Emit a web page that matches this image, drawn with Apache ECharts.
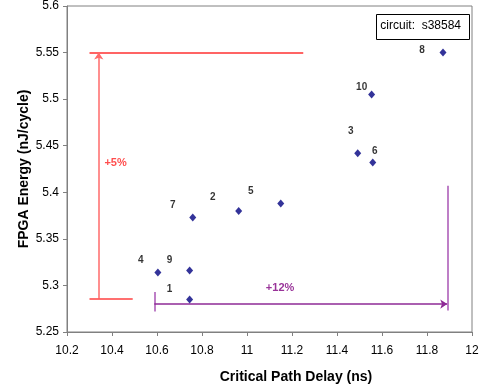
<!DOCTYPE html>
<html><head><meta charset="utf-8">
<script src="https://cdn.jsdelivr.net/npm/echarts@6/dist/echarts.min.js"></script>
<style>html,body{margin:0;padding:0;background:#fff}#c{width:486px;height:392px}</style>
</head><body><div id="c"></div>
<script>
// ---- data ----
const pointIds = ['1', '2', '3', '4', '5', '6', '7', '8', '9', '10'];
const delayNs  = [10.745, 10.963, 11.492, 10.604, 11.150, 11.559, 10.759, 11.871, 10.745, 11.554];
const energy   = [5.285, 5.380, 5.442, 5.314, 5.388, 5.432, 5.373, 5.550, 5.316, 5.505];

const redTop      = [[10.30, 5.55], [11.25, 5.55]];
const redArrow    = [[10.341, 5.286], [10.341, 5.55]];
const redBottom   = [[10.30, 5.286], [10.492, 5.286]];
const purpleLeft  = [[10.588, 5.293], [10.588, 5.272]];
const purpleArrow = [[10.588, 5.280], [11.89, 5.280]];
const purpleRight = [[11.89, 5.407], [11.89, 5.273]];

const noteRed    = {text: '+5%', x: 10.416, y: 5.431};
const notePurple = {text: '+12%', x: 11.147, y: 5.297};
const boxText = 'circuit:  s38584';

// label offsets (style only, pixels)
const labelOffsets = [[-20,-10],[-26,-14],[-7,-22],[-17,-12],[-30,-12],[2,-11],[-20,-12],[-21,-2],[-20,-10],[-10,-7]];

const FONT = "'Liberation Sans', Arial, sans-serif";
const chart = echarts.init(document.getElementById('c'), null, {renderer: 'canvas'});

const pts = pointIds.map((id, i) => ({
  name: id, value: [delayNs[i], energy[i]],
  label: {offset: labelOffsets[i]}
}));

function seg(coords, color, arrow) {
  return {
    type: 'lines', coordinateSystem: 'cartesian2d', silent: true, z: 3,
    symbol: arrow ? ['none', 'arrow'] : ['none', 'none'], symbolSize: 7,
    lineStyle: {color: color, width: 1.5, opacity: 1},
    data: [{coords: coords}]
  };
}

chart.setOption({
  animation: false,
  backgroundColor: '#fff',
  grid: {left: 67, right: 14, top: 6, bottom: 60, show: true, borderColor: '#808080', borderWidth: 1},
  xAxis: {
    type: 'value', min: 10.2, max: 12, interval: 0.2,
    name: 'Critical Path Delay (ns)', nameLocation: 'middle', nameGap: 38, nameMoveOverlap: false,
    nameTextStyle: {fontFamily: FONT, fontWeight: 'bold', fontSize: 14, color: '#000', padding: [0, 0, 0, 53]},
    axisLine: {show: true, lineStyle: {color: '#808080'}},
    axisTick: {show: true, length: 4, inside: false, lineStyle: {color: '#808080'}},
    axisLabel: {fontFamily: FONT, fontSize: 12, color: '#000', margin: 13},
    splitLine: {show: false}
  },
  yAxis: {
    type: 'value', min: 5.25, max: 5.6, interval: 0.05,
    name: 'FPGA Energy (nJ/cycle)', nameLocation: 'middle', nameGap: 36, nameRotate: 90, nameMoveOverlap: false,
    nameTextStyle: {fontFamily: FONT, fontWeight: 'bold', fontSize: 14, color: '#000'},
    axisLine: {show: true, lineStyle: {color: '#808080'}},
    axisTick: {show: true, length: 4, inside: false, lineStyle: {color: '#808080'}},
    axisLabel: {fontFamily: FONT, fontSize: 12, color: '#000', margin: 8},
    splitLine: {show: false}
  },
  graphic: [
    {type: 'rect', right: 16, top: 14, shape: {width: 93, height: 25}, z: 10,
     style: {fill: '#fff', stroke: '#000', lineWidth: 1}},
    {type: 'text', right: 16 + 9, top: 20, z: 11,
     style: {text: boxText, font: "12px " + FONT, fill: '#000'}}
  ],
  series: [
    seg(redTop, '#ff3030', false),
    seg(redArrow, '#ff6a6a', true),
    seg(redBottom, '#ff4040', false),
    seg(purpleLeft, '#a855b5', false),
    seg(purpleArrow, '#8e2a96', true),
    seg(purpleRight, '#a855b5', false),
    {
      type: 'scatter', z: 5, symbol: 'diamond', symbolSize: [7, 8],
      itemStyle: {color: '#000080'},
      label: {show: true, position: 'inside', formatter: p => p.name,
              fontFamily: FONT, fontWeight: 'bold', fontSize: 10, color: '#000'},
      data: pts
    },
    {
      type: 'scatter', z: 6, symbolSize: 0, silent: true,
      label: {show: true, position: 'inside', formatter: p => p.name,
              fontFamily: FONT, fontWeight: 'bold', fontSize: 11},
      data: [
        {name: noteRed.text, value: [noteRed.x, noteRed.y], label: {color: '#ff2020'}},
        {name: notePurple.text, value: [notePurple.x, notePurple.y], label: {color: '#800080'}}
      ]
    }
  ]
});
</script></body></html>
